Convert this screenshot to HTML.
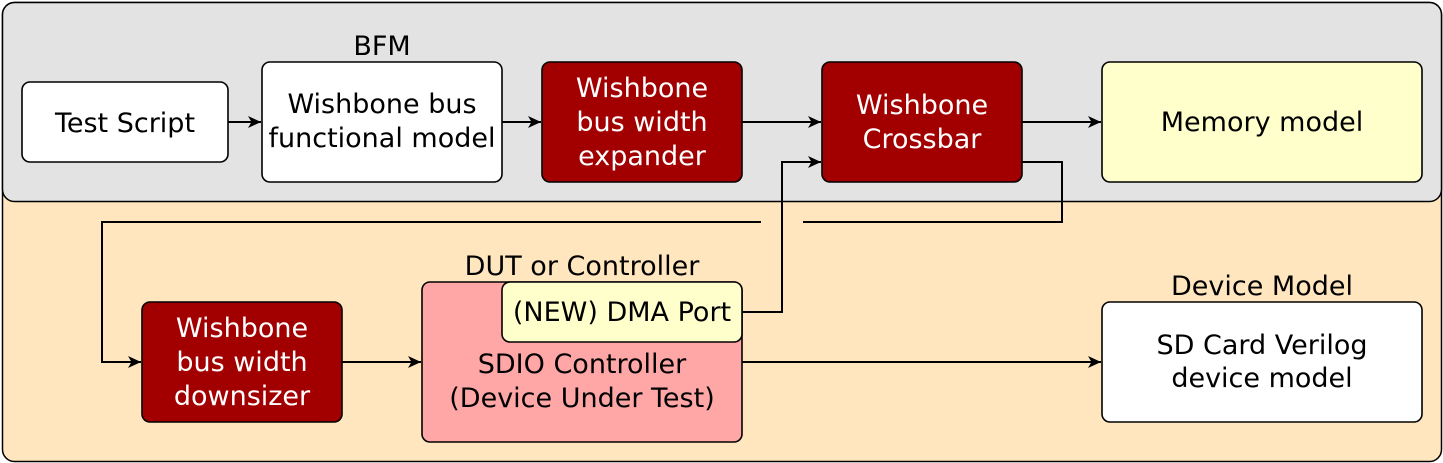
<!DOCTYPE html>
<html><head><style>
html,body{margin:0;padding:0;background:#fff;}
svg{display:block;}
text{font-family:"DejaVu Sans","Liberation Sans",sans-serif;font-size:27px;text-anchor:middle;}
</style></head><body>
<svg width="1443" height="463" viewBox="0 0 1443 463" xmlns="http://www.w3.org/2000/svg">
<defs><marker id="a" markerWidth="14" markerHeight="12" refX="13" refY="6" orient="auto" markerUnits="userSpaceOnUse"><path d="M0,0 L13,6 L0,12 L3.5,6 Z" fill="#000"/></marker></defs>
<rect x="2.5" y="2.5" width="1439" height="459" rx="12" fill="#ffe6bf" stroke="#000" stroke-width="1.5"/>
<rect x="2.5" y="2.5" width="1439" height="199" rx="12" fill="#e3e3e3" stroke="#000" stroke-width="1.5"/>
<g stroke="#000" stroke-width="1.6">
<rect x="22" y="82" width="206" height="80" rx="8" fill="#fff"/>
<rect x="262" y="62" width="240" height="120" rx="8" fill="#fff"/>
<rect x="542" y="62" width="200" height="120" rx="8" fill="#a20000"/>
<rect x="822" y="62" width="200" height="120" rx="8" fill="#a20000"/>
<rect x="1102" y="62" width="320" height="120" rx="8" fill="#ffffcc"/>
<rect x="142" y="302" width="200" height="120" rx="8" fill="#a20000"/>
<rect x="422" y="282" width="320" height="160" rx="8" fill="#ffa6a6"/>
<rect x="502" y="282" width="240" height="60" rx="8" fill="#ffffcc"/>
<rect x="1102" y="302" width="320" height="120" rx="8" fill="#fff"/>
</g>
<g stroke="#000" stroke-width="2" fill="none" marker-end="url(#a)">
<path d="M228,122 H261"/>
<path d="M502,122 H541"/>
<path d="M742,122 H821"/>
<path d="M1022,122 H1101"/>
<path d="M342,362 H421"/>
<path d="M742,362 H1101"/>
<path d="M742,312 H782 V162 H821"/>
<path d="M761,222 H102 V362 H141"/>
</g>
<path d="M1022,162 H1062 V222 H803" stroke="#000" stroke-width="2" fill="none"/>
<text x="125" y="132">Test Script</text>
<text x="382" y="55">BFM</text>
<text x="382" y="113">Wishbone bus</text>
<text x="382" y="147">functional model</text>
<g fill="#fff">
<text x="642" y="97">Wishbone</text>
<text x="642" y="131">bus width</text>
<text x="642" y="165">expander</text>
<text x="922" y="114">Wishbone</text>
<text x="922" y="148">Crossbar</text>
<text x="242" y="337">Wishbone</text>
<text x="242" y="371">bus width</text>
<text x="242" y="405">downsizer</text>
</g>
<text x="1262" y="131">Memory model</text>
<text x="582" y="275">DUT or Controller</text>
<text x="622" y="321">(NEW) DMA Port</text>
<text x="582" y="373">SDIO Controller</text>
<text x="582" y="407">(Device Under Test)</text>
<text x="1262" y="295">Device Model</text>
<text x="1262" y="354">SD Card Verilog</text>
<text x="1262" y="387">device model</text>
</svg>
</body></html>
